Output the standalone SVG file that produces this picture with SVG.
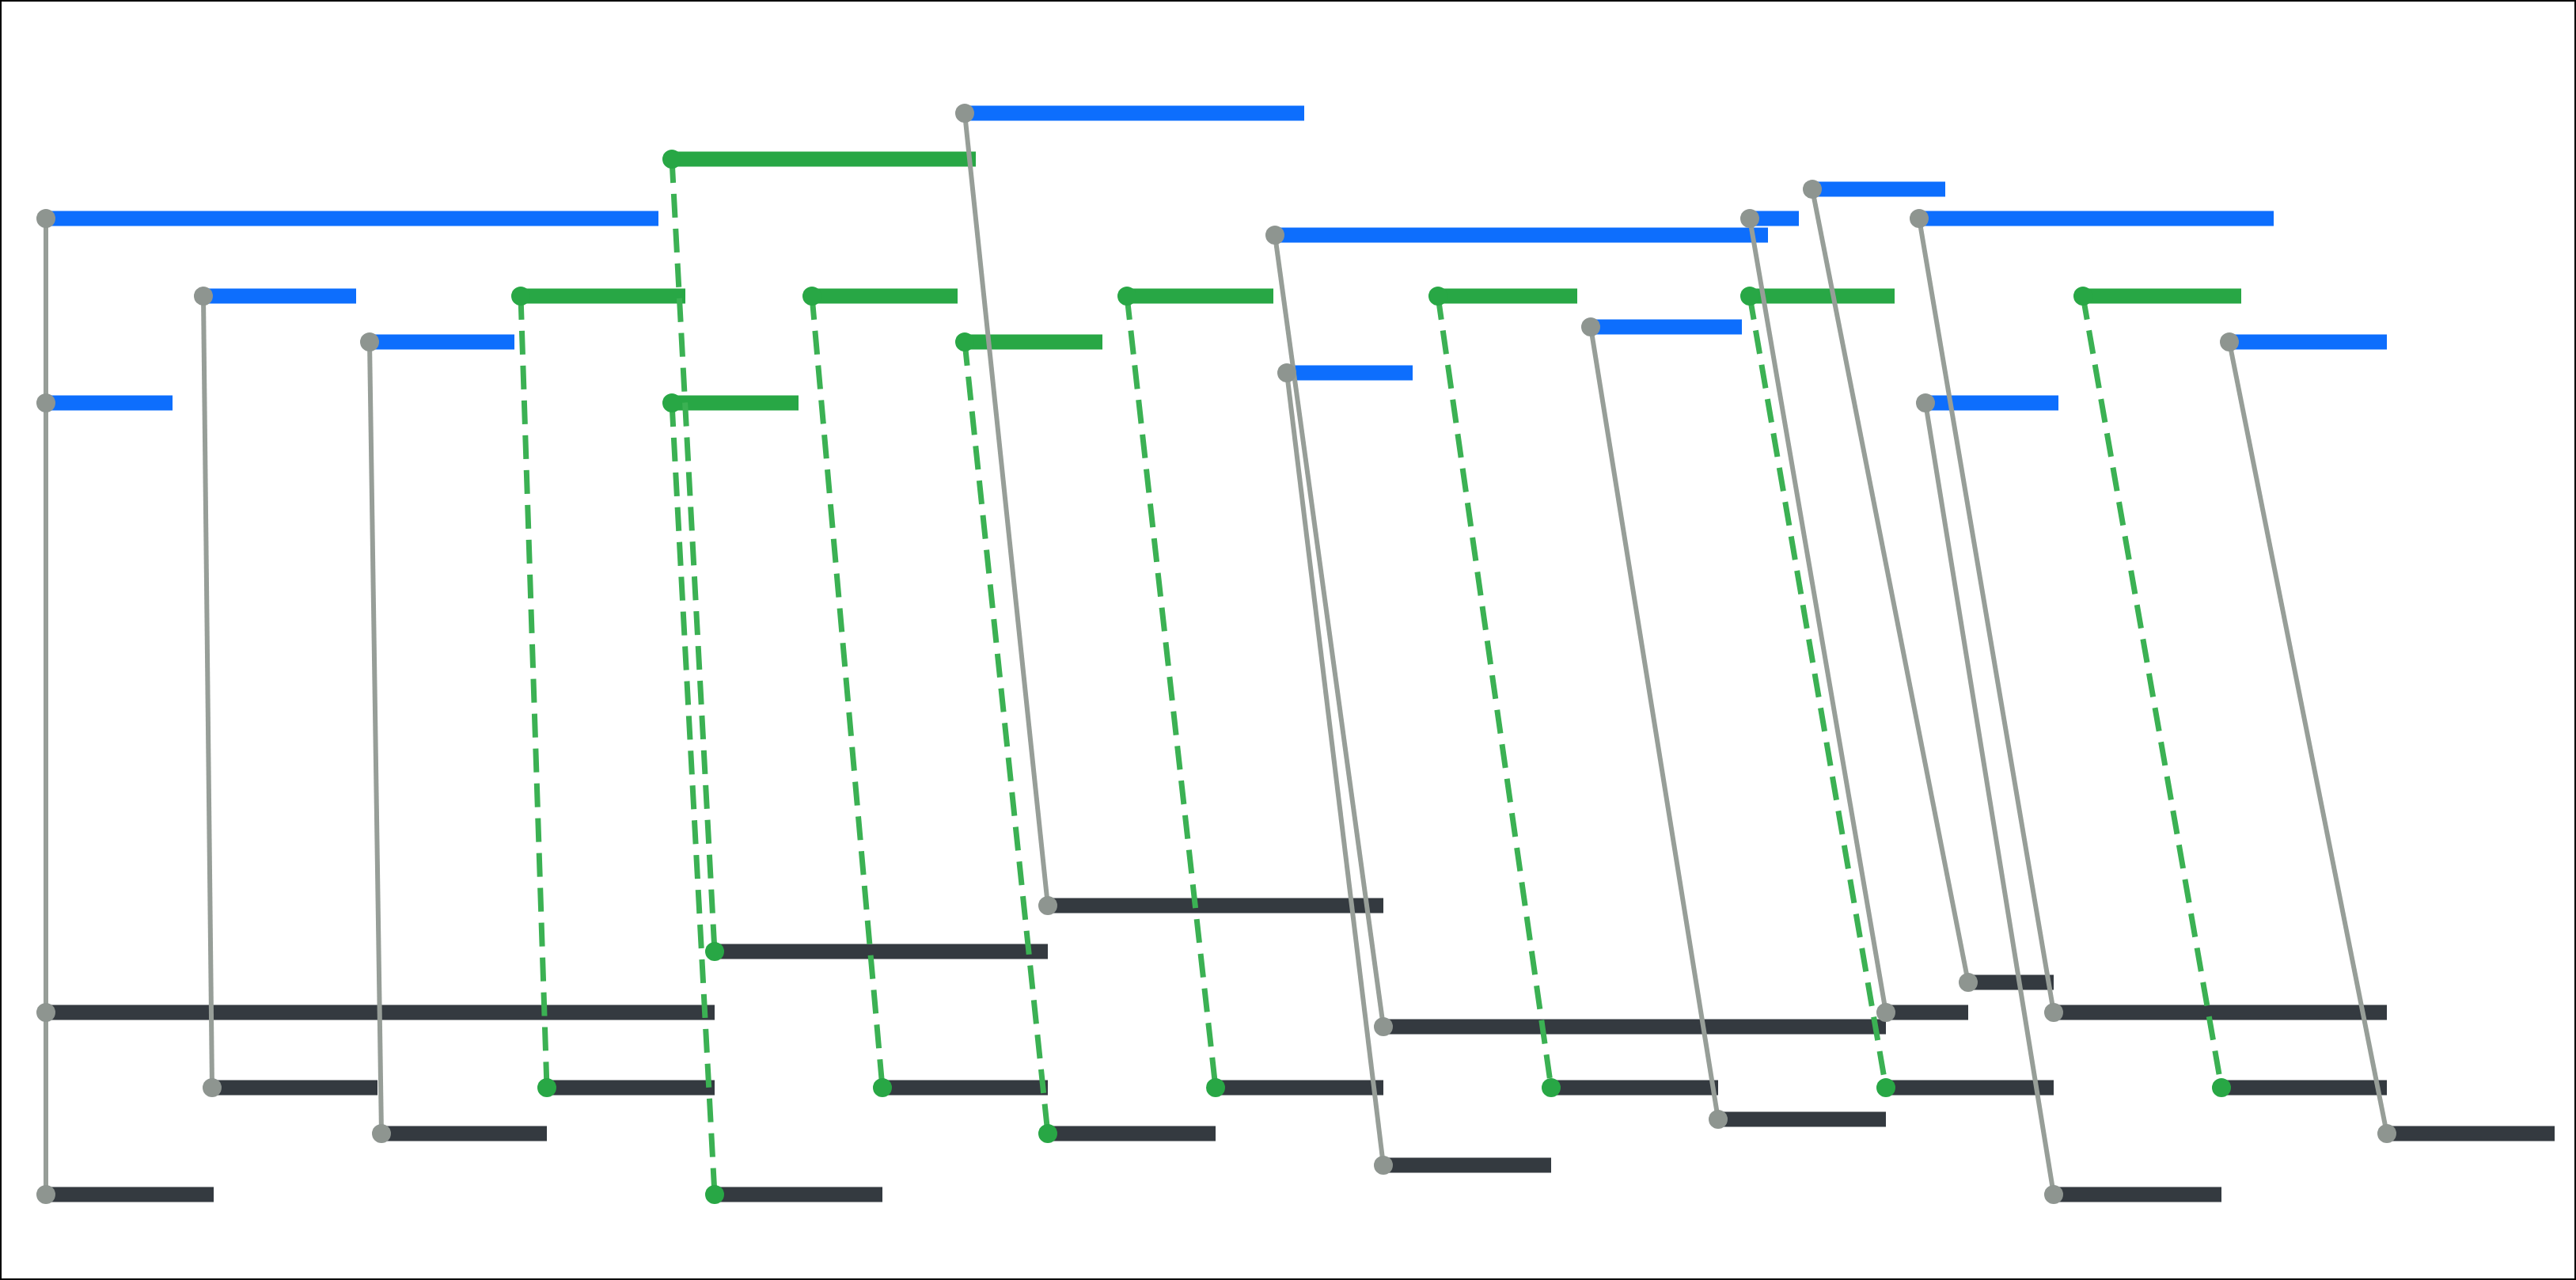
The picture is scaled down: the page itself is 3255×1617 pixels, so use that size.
<svg xmlns="http://www.w3.org/2000/svg" width="3255" height="1617" viewBox="0 0 3255 1617">
<style>
.b{stroke-width:19;stroke-linecap:butt}
.blue{stroke:#0d6efd}.green{stroke:#28a745}.dark{stroke:#343a40}
.c{stroke:#979e98;stroke-width:6;fill:none}
.d{stroke:#3bb153;stroke-width:7;fill:none;stroke-dasharray:30 14}
.pg{fill:#8e9590}.pn{fill:#28a745}
</style>
<rect x="1" y="1" width="3253" height="1615" fill="#fff" stroke="#000" stroke-width="2"/>
<g id="bars">
<g id="B1"><line class="b blue" x1="58" y1="276" x2="832" y2="276"/></g>
<g id="B2"><line class="b blue" x1="257" y1="374" x2="450" y2="374"/></g>
<g id="B3"><line class="b blue" x1="467" y1="432" x2="650" y2="432"/></g>
<g id="B4"><line class="b blue" x1="58" y1="509" x2="218" y2="509"/></g>
<g id="B5"><line class="b blue" x1="1219" y1="143" x2="1648" y2="143"/></g>
<g id="B6"><line class="b blue" x1="1611" y1="297" x2="2234" y2="297"/></g>
<g id="B7"><line class="b blue" x1="1626" y1="471" x2="1785" y2="471"/></g>
<g id="B8"><line class="b blue" x1="2010" y1="413" x2="2201" y2="413"/></g>
<g id="B9"><line class="b blue" x1="2211" y1="276" x2="2273" y2="276"/></g>
<g id="B10"><line class="b blue" x1="2290" y1="239" x2="2458" y2="239"/></g>
<g id="B11"><line class="b blue" x1="2425" y1="276" x2="2873" y2="276"/></g>
<g id="B12"><line class="b blue" x1="2433" y1="509" x2="2601" y2="509"/></g>
<g id="B13"><line class="b blue" x1="2817" y1="432" x2="3016" y2="432"/></g>
<g id="G1"><line class="b green" x1="849" y1="201" x2="1233" y2="201"/></g>
<g id="G2"><line class="b green" x1="658" y1="374" x2="866" y2="374"/></g>
<g id="G3"><line class="b green" x1="849" y1="509" x2="1009" y2="509"/></g>
<g id="G4"><line class="b green" x1="1026" y1="374" x2="1210" y2="374"/></g>
<g id="G5"><line class="b green" x1="1219" y1="432" x2="1393" y2="432"/></g>
<g id="G6"><line class="b green" x1="1424" y1="374" x2="1609" y2="374"/></g>
<g id="G7"><line class="b green" x1="1817" y1="374" x2="1993" y2="374"/></g>
<g id="G8"><line class="b green" x1="2211" y1="374" x2="2394" y2="374"/></g>
<g id="G9"><line class="b green" x1="2632" y1="374" x2="2832" y2="374"/></g>
<g id="D1"><line class="b dark" x1="58" y1="1279" x2="903" y2="1279"/></g>
<g id="D2"><line class="b dark" x1="268" y1="1374" x2="477" y2="1374"/></g>
<g id="D3"><line class="b dark" x1="482" y1="1432" x2="691" y2="1432"/></g>
<g id="D4"><line class="b dark" x1="58" y1="1509" x2="270" y2="1509"/></g>
<g id="D5"><line class="b dark" x1="691" y1="1374" x2="903" y2="1374"/></g>
<g id="D6"><line class="b dark" x1="903" y1="1202" x2="1324" y2="1202"/></g>
<g id="D7"><line class="b dark" x1="903" y1="1509" x2="1115" y2="1509"/></g>
<g id="D8"><line class="b dark" x1="1115" y1="1374" x2="1324" y2="1374"/></g>
<g id="D9"><line class="b dark" x1="1324" y1="1144" x2="1748" y2="1144"/></g>
<g id="D10"><line class="b dark" x1="1324" y1="1432" x2="1536" y2="1432"/></g>
<g id="D11"><line class="b dark" x1="1536" y1="1374" x2="1748" y2="1374"/></g>
<g id="D12"><line class="b dark" x1="1748" y1="1297" x2="2383" y2="1297"/></g>
<g id="D13"><line class="b dark" x1="1748" y1="1472" x2="1960" y2="1472"/></g>
<g id="D14"><line class="b dark" x1="1960" y1="1374" x2="2171" y2="1374"/></g>
<g id="D15"><line class="b dark" x1="2171" y1="1414" x2="2383" y2="1414"/></g>
<g id="D16"><line class="b dark" x1="2383" y1="1279" x2="2487" y2="1279"/></g>
<g id="D17"><line class="b dark" x1="2383" y1="1374" x2="2595" y2="1374"/></g>
<g id="D18"><line class="b dark" x1="2487" y1="1241" x2="2595" y2="1241"/></g>
<g id="D19"><line class="b dark" x1="2595" y1="1279" x2="3016" y2="1279"/></g>
<g id="D20"><line class="b dark" x1="2595" y1="1509" x2="2807" y2="1509"/></g>
<g id="D21"><line class="b dark" x1="2807" y1="1374" x2="3016" y2="1374"/></g>
<g id="D22"><line class="b dark" x1="3016" y1="1432" x2="3228" y2="1432"/></g>
</g>
<g id="connectors">
<line class="c" x1="58" y1="276" x2="58" y2="1509"/>
<line class="c" x1="257" y1="374" x2="268" y2="1374"/>
<line class="c" x1="467" y1="432" x2="482" y2="1432"/>
<line class="c" x1="1219" y1="143" x2="1324" y2="1144"/>
<line class="c" x1="1611" y1="297" x2="1748" y2="1297"/>
<line class="c" x1="1626" y1="471" x2="1748" y2="1472"/>
<line class="c" x1="2010" y1="413" x2="2171" y2="1414"/>
<line class="c" x1="2211" y1="276" x2="2383" y2="1279"/>
<line class="c" x1="2290" y1="239" x2="2487" y2="1241"/>
<line class="c" x1="2425" y1="276" x2="2595" y2="1279"/>
<line class="c" x1="2433" y1="509" x2="2595" y2="1509"/>
<line class="c" x1="2817" y1="432" x2="3016" y2="1432"/>
<line class="d" x1="658" y1="374" x2="691" y2="1374"/>
<line class="d" x1="849" y1="201" x2="903" y2="1202"/>
<line class="d" x1="849" y1="509" x2="903" y2="1509"/>
<line class="d" x1="1026" y1="374" x2="1115" y2="1374"/>
<line class="d" x1="1219" y1="432" x2="1324" y2="1432"/>
<line class="d" x1="1424" y1="374" x2="1536" y2="1374"/>
<line class="d" x1="1817" y1="374" x2="1960" y2="1374"/>
<line class="d" x1="2211" y1="374" x2="2383" y2="1374"/>
<line class="d" x1="2632" y1="374" x2="2807" y2="1374"/>
</g>
<g id="points">
<g class="pg">
<circle cx="58" cy="276" r="12"/><circle cx="257" cy="374" r="12"/><circle cx="467" cy="432" r="12"/><circle cx="58" cy="509" r="12"/>
<circle cx="1219" cy="143" r="12"/><circle cx="1611" cy="297" r="12"/><circle cx="1626" cy="471" r="12"/><circle cx="2010" cy="413" r="12"/>
<circle cx="2211" cy="276" r="12"/><circle cx="2290" cy="239" r="12"/><circle cx="2425" cy="276" r="12"/><circle cx="2433" cy="509" r="12"/><circle cx="2817" cy="432" r="12"/>
<circle cx="58" cy="1279" r="12"/><circle cx="268" cy="1374" r="12"/><circle cx="482" cy="1432" r="12"/><circle cx="58" cy="1509" r="12"/>
<circle cx="1324" cy="1144" r="12"/><circle cx="1748" cy="1297" r="12"/><circle cx="1748" cy="1472" r="12"/><circle cx="2171" cy="1414" r="12"/>
<circle cx="2383" cy="1279" r="12"/><circle cx="2487" cy="1241" r="12"/><circle cx="2595" cy="1279" r="12"/><circle cx="2595" cy="1509" r="12"/><circle cx="3016" cy="1432" r="12"/>
</g>
<g class="pn">
<circle cx="849" cy="201" r="12"/><circle cx="658" cy="374" r="12"/><circle cx="849" cy="509" r="12"/><circle cx="1026" cy="374" r="12"/>
<circle cx="1219" cy="432" r="12"/><circle cx="1424" cy="374" r="12"/><circle cx="1817" cy="374" r="12"/><circle cx="2211" cy="374" r="12"/><circle cx="2632" cy="374" r="12"/>
<circle cx="691" cy="1374" r="12"/><circle cx="903" cy="1202" r="12"/><circle cx="903" cy="1509" r="12"/><circle cx="1115" cy="1374" r="12"/>
<circle cx="1324" cy="1432" r="12"/><circle cx="1536" cy="1374" r="12"/><circle cx="1960" cy="1374" r="12"/><circle cx="2383" cy="1374" r="12"/><circle cx="2807" cy="1374" r="12"/>
</g>
</g>
</svg>
